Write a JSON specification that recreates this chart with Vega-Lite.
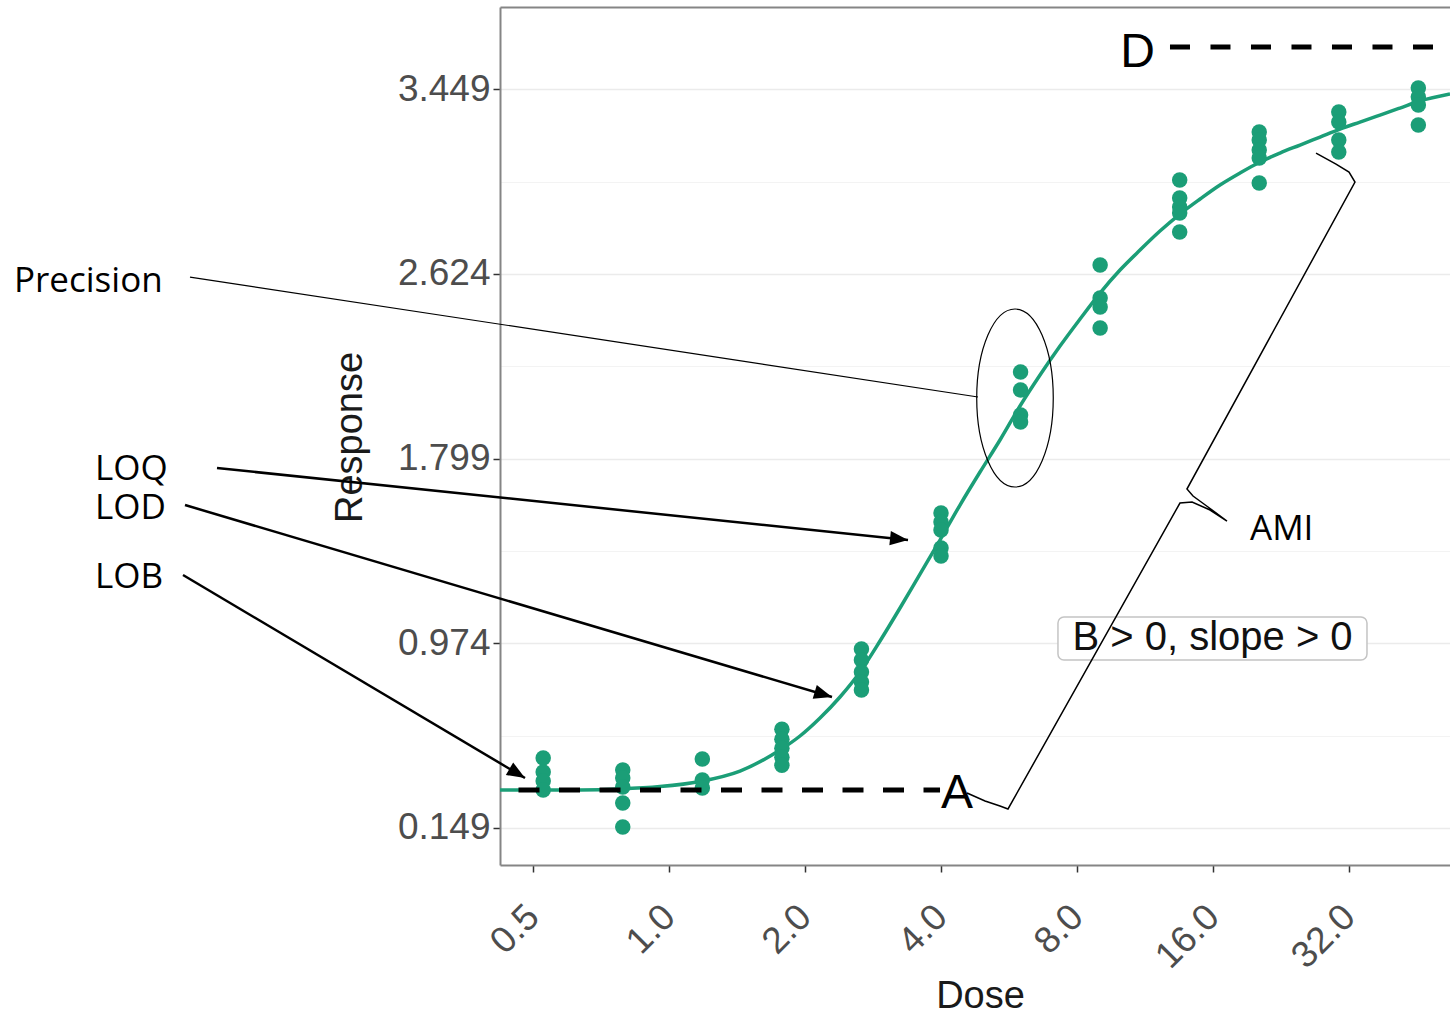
{
  "$schema": "https://vega.github.io/schema/vega-lite/v6.json",
  "width": 950,
  "height": 858,
  "autosize": {"type": "none"},
  "padding": {"left": 500, "top": 7, "right": 0, "bottom": 148},
  "background": "white",
  "config": {"font": "Liberation Sans", "view": {"stroke": null}},
  "datasets": {
    "pts": [
      {"dose": 0.5267, "response": 0.4617}, {"dose": 0.5267, "response": 0.3991}, {"dose": 0.5267, "response": 0.3589}, {"dose": 0.5267, "response": 0.3187},
      {"dose": 0.7901, "response": 0.4081}, {"dose": 0.7901, "response": 0.3724}, {"dose": 0.7901, "response": 0.3321}, {"dose": 0.7901, "response": 0.2607}, {"dose": 0.7901, "response": 0.1535},
      {"dose": 1.1852, "response": 0.4572}, {"dose": 1.1852, "response": 0.3634}, {"dose": 1.1852, "response": 0.3277},
      {"dose": 1.7778, "response": 0.5902}, {"dose": 1.7778, "response": 0.5455}, {"dose": 1.7778, "response": 0.5053}, {"dose": 1.7778, "response": 0.4651}, {"dose": 1.7778, "response": 0.4294},
      {"dose": 2.6667, "response": 0.9486}, {"dose": 2.6667, "response": 0.8995}, {"dose": 2.6667, "response": 0.8459}, {"dose": 2.6667, "response": 0.8012}, {"dose": 2.6667, "response": 0.7654},
      {"dose": 4, "response": 1.556}, {"dose": 4, "response": 1.516}, {"dose": 4, "response": 1.48}, {"dose": 4, "response": 1.4}, {"dose": 4, "response": 1.364},
      {"dose": 6, "response": 2.186}, {"dose": 6, "response": 2.1055}, {"dose": 6, "response": 1.994}, {"dose": 6, "response": 1.9626},
      {"dose": 9, "response": 2.664}, {"dose": 9, "response": 2.5165}, {"dose": 9, "response": 2.4763}, {"dose": 9, "response": 2.3825},
      {"dose": 13.5, "response": 3.0437}, {"dose": 13.5, "response": 2.9632}, {"dose": 13.5, "response": 2.923}, {"dose": 13.5, "response": 2.8962}, {"dose": 13.5, "response": 2.8113},
      {"dose": 20.25, "response": 3.2581}, {"dose": 20.25, "response": 3.2223}, {"dose": 20.25, "response": 3.1777}, {"dose": 20.25, "response": 3.1419}, {"dose": 20.25, "response": 3.0302},
      {"dose": 30.375, "response": 3.3474}, {"dose": 30.375, "response": 3.3027}, {"dose": 30.375, "response": 3.2223}, {"dose": 30.375, "response": 3.1687},
      {"dose": 45.5625, "response": 3.4546}, {"dose": 45.5625, "response": 3.4144}, {"dose": 45.5625, "response": 3.3787}, {"dose": 45.5625, "response": 3.2894}
    ],
    "fit": [
      {"dose": 0.4226, "response": 0.3187}, {"dose": 0.5181, "response": 0.3187}, {"dose": 0.6353, "response": 0.319},
      {"dose": 0.779, "response": 0.3232}, {"dose": 0.9552, "response": 0.334}, {"dose": 1.1712, "response": 0.357},
      {"dose": 1.436, "response": 0.4036}, {"dose": 1.7607, "response": 0.4974}, {"dose": 1.9496, "response": 0.56},
      {"dose": 2.1591, "response": 0.6404}, {"dose": 2.3906, "response": 0.7342}, {"dose": 2.6472, "response": 0.8459},
      {"dose": 2.9312, "response": 0.9843}, {"dose": 3.2459, "response": 1.1317}, {"dose": 3.5939, "response": 1.2836},
      {"dose": 3.9796, "response": 1.4355}, {"dose": 4.4068, "response": 1.5918}, {"dose": 4.8799, "response": 1.7393},
      {"dose": 5.403, "response": 1.8822}, {"dose": 5.983, "response": 2.034}, {"dose": 6.626, "response": 2.1725},
      {"dose": 7.336, "response": 2.302}, {"dose": 8.124, "response": 2.4227}, {"dose": 8.995, "response": 2.5388},
      {"dose": 9.961, "response": 2.6416}, {"dose": 11.03, "response": 2.7309}, {"dose": 12.21, "response": 2.8158},
      {"dose": 13.52, "response": 2.8917}, {"dose": 14.98, "response": 2.9587}, {"dose": 16.58, "response": 3.0213},
      {"dose": 18.36, "response": 3.0749}, {"dose": 20.33, "response": 3.1241}, {"dose": 22.51, "response": 3.1642},
      {"dose": 24.93, "response": 3.1999}, {"dose": 27.61, "response": 3.2357}, {"dose": 30.57, "response": 3.2714},
      {"dose": 33.84, "response": 3.3027}, {"dose": 37.48, "response": 3.334}, {"dose": 41.5, "response": 3.3652},
      {"dose": 45.96, "response": 3.3965}, {"dose": 53.54, "response": 3.4278}
    ],
    "asymptotes": [
      {"name": "A", "x": 0.4226, "x2": 3.98, "y": 0.3187, "tx": 4.0, "ty": 0.2383},
      {"name": "D", "x": 12.85, "x2": 53.54, "y": 3.6377, "tx": 11.9, "ty": 3.5483}
    ],
    "box": [
      {"x": 7.26, "x2": 35.07, "y": 0.8995, "y2": 1.0915, "tx": 15.96, "ty": 0.944, "label": "B > 0, slope > 0"}
    ],
    "brace": [
      {"i": 1, "x": 4.567, "y": 0.3053}, {"i": 2, "x": 5.006, "y": 0.2696}, {"i": 3, "x": 5.403, "y": 0.2473},
      {"i": 4, "x": 5.628, "y": 0.2339}, {"i": 5, "x": 13.52, "y": 1.6008}, {"i": 6, "x": 14.38, "y": 1.6053},
      {"i": 7, "x": 15.76, "y": 1.5695}, {"i": 8, "x": 17.18, "y": 1.5204}, {"i": 9, "x": 15.6, "y": 1.5829},
      {"i": 10, "x": 14.45, "y": 1.6321}, {"i": 11, "x": 14.01, "y": 1.6633}, {"i": 12, "x": 32.99, "y": 3.0347},
      {"i": 13, "x": 32.0, "y": 3.0793}, {"i": 14, "x": 29.95, "y": 3.1151}, {"i": 15, "x": 27.05, "y": 3.1642}
    ],
    "ellipse": [{"x": 5.832, "y": 2.0698}],
    "arrows": [
      {"name": "Precision", "x0": 0.08705, "y0": 2.6103, "x1": 4.83, "y1": 2.0743},
      {"name": "LOQ", "x0": 0.0999, "y0": 1.7571, "x1": 3.381, "y1": 1.4355},
      {"name": "LOD", "x0": 0.08486, "y0": 1.5918, "x1": 2.295, "y1": 0.7342},
      {"name": "LOB", "x0": 0.084, "y0": 1.2792, "x1": 0.48, "y1": 0.3724}
    ],
    "notes": [
      {"label": "Precision", "x": 0.0355, "y": 2.5433},
      {"label": "LOQ", "x": 0.05363, "y": 1.7035},
      {"label": "LOD", "x": 0.05363, "y": 1.5293},
      {"label": "LOB", "x": 0.05363, "y": 1.2211},
      {"label": "AMI", "x": 19.32, "y": 1.4355}
    ]
  },
  "resolve": {"axis": {"x": "independent"}},
  "layer": [
    {
      "data": {"name": "fit"},
      "mark": {"type": "line", "color": "#1b9e77", "strokeWidth": 3.5, "interpolate": "monotone"},
      "encoding": {
        "x": {
          "field": "dose", "type": "quantitative",
          "scale": {"type": "log", "base": 2, "domain": [0.4226, 53.54], "nice": false, "zero": false},
          "axis": {"orient": "top", "domain": true, "domainColor": "#858585", "domainWidth": 2, "ticks": false, "labels": false, "grid": false, "title": null}
        },
        "y": {
          "field": "response", "type": "quantitative",
          "scale": {"domain": [-0.0163, 3.8166], "nice": false, "zero": false}
        }
      }
    },
    {
      "data": {"name": "pts"},
      "mark": {"type": "circle", "size": 240, "color": "#1b9e77", "opacity": 1},
      "encoding": {
        "x": {
          "field": "dose", "type": "quantitative",
          "axis": {
            "values": [0.5, 0.7071, 1, 1.4142, 2, 2.8284, 4, 5.6569, 8, 11.3137, 16, 22.6274, 32, 45.2548],
            "labelExpr": "abs(log(datum.value)/log(2) - round(log(datum.value)/log(2))) < 0.05 ? format(datum.value, '.1f') : ''",
            "labelAngle": -45, "labelAlign": "right", "labelBaseline": "middle",
            "labelFont": "Liberation Sans", "labelFontSize": 37, "labelColor": "#4d4d4d",
            "labelPadding": 39, "labelOverlap": false, "labelFlush": false,
            "tickSize": 7, "tickWidth": 1.5,
            "tickColor": {"condition": {"test": "abs(log(datum.value)/log(2) - round(log(datum.value)/log(2))) > 0.05", "value": "transparent"}, "value": "#333333"},
            "gridColor": {"condition": {"test": "abs(log(datum.value)/log(2) - round(log(datum.value)/log(2))) > 0.05", "value": "#f3f3f3"}, "value": "#ebebeb"},
            "gridWidth": {"condition": {"test": "abs(log(datum.value)/log(2) - round(log(datum.value)/log(2))) > 0.05", "value": 1}, "value": 1.6},
            "domainColor": "#858585", "domainWidth": 2,
            "title": "Dose", "titleFont": "Liberation Sans", "titleFontSize": 38, "titleFontWeight": "normal", "titleColor": "#1a1a1a",
            "titleX": 480, "titleY": 131, "titleBaseline": "middle", "titleAlign": "center"
          }
        },
        "y": {
          "field": "response", "type": "quantitative",
          "axis": {
            "values": [0.149, 0.5615, 0.974, 1.3865, 1.799, 2.2115, 2.624, 3.0365, 3.449],
            "labelExpr": "abs((datum.value - 0.149)/0.825 - round((datum.value - 0.149)/0.825)) < 0.05 ? format(datum.value, '.3f') : ''",
            "labelFont": "Liberation Sans", "labelFontSize": 37, "labelColor": "#4d4d4d",
            "labelPadding": 3, "labelOverlap": false, "labelFlush": false,
            "tickSize": 7, "tickWidth": 1.5,
            "tickColor": {"condition": {"test": "abs((datum.value - 0.149)/0.825 - round((datum.value - 0.149)/0.825)) > 0.05", "value": "transparent"}, "value": "#333333"},
            "gridColor": {"condition": {"test": "abs((datum.value - 0.149)/0.825 - round((datum.value - 0.149)/0.825)) > 0.05", "value": "#f3f3f3"}, "value": "#ebebeb"},
            "gridWidth": {"condition": {"test": "abs((datum.value - 0.149)/0.825 - round((datum.value - 0.149)/0.825)) > 0.05", "value": 1}, "value": 1.6},
            "domainColor": "#858585", "domainWidth": 2,
            "title": "Response", "titleFont": "Liberation Sans", "titleFontSize": 38, "titleFontWeight": "normal", "titleColor": "#1a1a1a",
            "titleX": -150, "titleY": 430, "titleAngle": -90, "titleBaseline": "middle", "titleAlign": "center"
          }
        }
      }
    },
    {
      "data": {"name": "asymptotes"},
      "transform": [{"filter": "datum.name == 'A'"}],
      "mark": {"type": "rule", "color": "black", "strokeWidth": 5, "strokeDash": [21, 19.5], "strokeDashOffset": 22},
      "encoding": {
        "x": {"field": "x", "type": "quantitative", "axis": null},
        "x2": {"field": "x2"},
        "y": {"field": "y", "type": "quantitative"}
      }
    },
    {
      "data": {"name": "asymptotes"},
      "transform": [{"filter": "datum.name == 'D'"}],
      "mark": {"type": "rule", "color": "black", "strokeWidth": 5, "strokeDash": [20, 20.5]},
      "encoding": {
        "x": {"field": "x", "type": "quantitative", "axis": null},
        "x2": {"field": "x2"},
        "y": {"field": "y", "type": "quantitative"}
      }
    },
    {
      "data": {"name": "asymptotes"},
      "transform": [{"filter": "datum.name == 'A'"}],
      "mark": {"type": "text", "align": "left", "baseline": "alphabetic", "fontSize": 48, "font": "Liberation Sans", "color": "black"},
      "encoding": {
        "x": {"field": "tx", "type": "quantitative", "axis": null},
        "y": {"field": "ty", "type": "quantitative"},
        "text": {"field": "name"}
      }
    },
    {
      "data": {"name": "asymptotes"},
      "transform": [{"filter": "datum.name == 'D'"}],
      "mark": {"type": "text", "align": "right", "baseline": "alphabetic", "fontSize": 48, "font": "Liberation Sans", "color": "black"},
      "encoding": {
        "x": {"field": "tx", "type": "quantitative", "axis": null},
        "y": {"field": "ty", "type": "quantitative"},
        "text": {"field": "name"}
      }
    },
    {
      "data": {"name": "box"},
      "mark": {"type": "rect", "fill": "white", "stroke": "#c4c4c4", "strokeWidth": 1.5, "cornerRadius": 6},
      "encoding": {
        "x": {"field": "x", "type": "quantitative", "axis": null},
        "x2": {"field": "x2"},
        "y": {"field": "y", "type": "quantitative"},
        "y2": {"field": "y2"}
      }
    },
    {
      "data": {"name": "box"},
      "mark": {"type": "text", "align": "center", "baseline": "alphabetic", "fontSize": 40, "font": "Liberation Sans", "color": "#111111"},
      "encoding": {
        "x": {"field": "tx", "type": "quantitative", "axis": null},
        "y": {"field": "ty", "type": "quantitative"},
        "text": {"field": "label"}
      }
    },
    {
      "data": {"name": "brace"},
      "mark": {"type": "line", "color": "black", "strokeWidth": 1.5},
      "encoding": {
        "x": {"field": "x", "type": "quantitative", "axis": null},
        "y": {"field": "y", "type": "quantitative"},
        "order": {"field": "i", "type": "quantitative"}
      }
    },
    {
      "data": {"name": "ellipse"},
      "mark": {
        "type": "point", "filled": false, "stroke": "black", "strokeWidth": 1.2, "opacity": 1, "size": 31684,
        "shape": "M 0 -1 C 0.2375 -1 0.43 -0.5523 0.43 0 C 0.43 0.5523 0.2375 1 0 1 C -0.2375 1 -0.43 0.5523 -0.43 0 C -0.43 -0.5523 -0.2375 -1 0 -1 Z"
      },
      "encoding": {
        "x": {"field": "x", "type": "quantitative", "axis": null},
        "y": {"field": "y", "type": "quantitative"}
      }
    },
    {
      "data": {"name": "arrows"},
      "transform": [{"filter": "datum.name == 'Precision'"}],
      "mark": {"type": "rule", "color": "black", "strokeWidth": 1.2},
      "encoding": {
        "x": {"field": "x0", "type": "quantitative", "axis": null},
        "y": {"field": "y0", "type": "quantitative"},
        "x2": {"field": "x1"},
        "y2": {"field": "y1"}
      }
    },
    {
      "data": {"name": "arrows"},
      "transform": [{"filter": "datum.name != 'Precision'"}],
      "mark": {"type": "rule", "color": "black", "strokeWidth": 2.5},
      "encoding": {
        "x": {"field": "x0", "type": "quantitative", "axis": null},
        "y": {"field": "y0", "type": "quantitative"},
        "x2": {"field": "x1"},
        "y2": {"field": "y1"}
      }
    },
    {
      "data": {"name": "arrows"},
      "transform": [{"filter": "datum.name == 'LOQ'"}],
      "mark": {"type": "point", "shape": "M 0 0 L -2 -0.8 L -2 0.8 Z", "size": 324, "filled": true, "fill": "black", "strokeWidth": 0, "opacity": 1, "angle": 6},
      "encoding": {
        "x": {"field": "x1", "type": "quantitative", "axis": null},
        "y": {"field": "y1", "type": "quantitative"}
      }
    },
    {
      "data": {"name": "arrows"},
      "transform": [{"filter": "datum.name == 'LOD'"}],
      "mark": {"type": "point", "shape": "M 0 0 L -2 -0.8 L -2 0.8 Z", "size": 324, "filled": true, "fill": "black", "strokeWidth": 0, "opacity": 1, "angle": 16.5},
      "encoding": {
        "x": {"field": "x1", "type": "quantitative", "axis": null},
        "y": {"field": "y1", "type": "quantitative"}
      }
    },
    {
      "data": {"name": "arrows"},
      "transform": [{"filter": "datum.name == 'LOB'"}],
      "mark": {"type": "point", "shape": "M 0 0 L -2 -0.8 L -2 0.8 Z", "size": 324, "filled": true, "fill": "black", "strokeWidth": 0, "opacity": 1, "angle": 30.7},
      "encoding": {
        "x": {"field": "x1", "type": "quantitative", "axis": null},
        "y": {"field": "y1", "type": "quantitative"}
      }
    },
    {
      "data": {"name": "notes"},
      "mark": {"type": "text", "align": "left", "baseline": "alphabetic", "fontSize": 35, "font": "Open Sans", "color": "black"},
      "encoding": {
        "x": {"field": "x", "type": "quantitative", "axis": null},
        "y": {"field": "y", "type": "quantitative"},
        "text": {"field": "label"}
      }
    }
  ]
}
